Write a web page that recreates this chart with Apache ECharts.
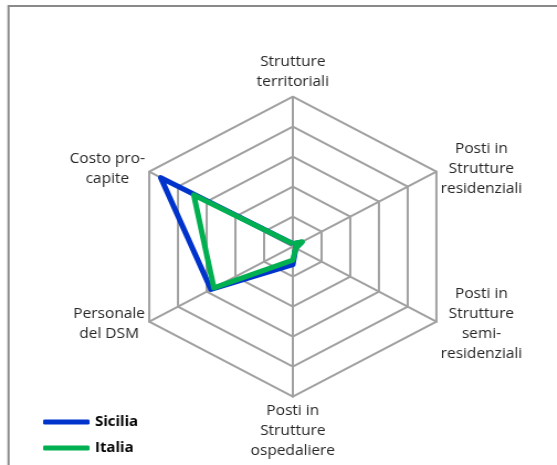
<!DOCTYPE html>
<html>
<head>
<meta charset="utf-8">
<script src="https://cdn.jsdelivr.net/npm/echarts@6/dist/echarts.min.js"></script>
<style>
  html, body { margin: 0; padding: 0; background: #fff; overflow: hidden; }
  /* the reference is stretched horizontally (~1.105x), so the chart is drawn narrower and scaled */
  #chart { width: 504px; height: 465px; transform: scaleX(1.105); transform-origin: 0 0; }
</style>
</head>
<body>
<div id="chart"></div>
<script>
// indicators, counter-clockwise from the top (ECharts radar order)
const indicatorNames = [
  'Strutture\nterritoriali',
  'Costo pro-\ncapite',
  'Personale\ndel DSM',
  'Posti in\nStrutture\nospedaliere',
  'Posti in\nStrutture\nsemi-\nresidenziali',
  'Posti in\nStrutture\nresidenziali'
];
const maxValue = 5;
const seriesNames = ['Sicilia', 'Italia'];
const sicilia = [0.1, 4.6, 2.85, 0.6, 0.1, 0.3];
const italia = [0.1, 3.45, 2.75, 0.45, 0.1, 0.33];

const gridColor = '#a0a0a0';
const textColor = '#262626';

let chart = echarts.init(document.getElementById('chart'));

let option = {
  animation: false,
  graphic: [
    {
      type: 'rect',
      silent: true,
      z: -1,
      shape: { x: 7.7, y: 6, width: 600, height: 500 },
      style: { fill: null, stroke: '#8a8a8a', lineWidth: 2 }
    }
  ],
  legend: {
    orient: 'vertical',
    left: 39,
    top: 414,
    padding: 0,
    itemWidth: 42,
    itemHeight: 5,
    itemGap: 10,
    icon: 'roundRect',
    data: seriesNames,
    textStyle: {
      fontFamily: 'Open Sans',
      fontWeight: 'bold',
      fontSize: 13.5,
      lineHeight: 16,
      color: '#000'
    }
  },
  radar: {
    center: [265, 246.7],
    radius: 150,
    startAngle: 90,
    splitNumber: 5,
    shape: 'polygon',
    nameGap: 4.5,
    indicator: indicatorNames.map(n => ({ name: n, min: 0, max: maxValue })),
    axisName: {
      formatter: v => v.split('\n').map(l => '{c|' + l + '}').join('\n'),
      color: textColor,
      fontFamily: 'Open Sans',
      fontSize: 14,
      lineHeight: 20,
      rich: {
        c: {
          align: 'center',
          color: textColor,
          fontFamily: 'Open Sans',
          fontSize: 14,
          lineHeight: 20
        }
      }
    },
    axisLine: { lineStyle: { color: gridColor, width: 2 } },
    splitLine: { lineStyle: { color: gridColor, width: 2 } },
    splitArea: { show: false },
    axisTick: { show: false },
    axisLabel: { show: false }
  },
  series: [
    {
      type: 'radar',
      symbol: 'none',
      data: [
        {
          name: seriesNames[0],
          value: sicilia,
          itemStyle: { color: '#0033cc' },
          lineStyle: { color: '#0033cc', width: 5, join: 'round' }
        },
        {
          name: seriesNames[1],
          value: italia,
          itemStyle: { color: '#00b050' },
          lineStyle: { color: '#00b050', width: 5, join: 'round' }
        }
      ]
    }
  ]
};

chart.setOption(option);
</script>
</body>
</html>
